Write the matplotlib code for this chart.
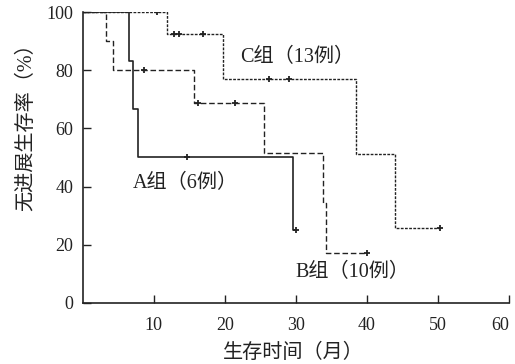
import matplotlib.pyplot as plt

plt.rcParams['font.family'] = ['Liberation Serif', 'Noto Sans CJK SC']

# Kaplan-Meier steps (months, %)
a_t = [0, 6.5, 7.1, 7.8, 29.6, 30.0]
a_s = [100, 83.3, 66.7, 50.0, 25.0, 25.0]
a_ct = [14.7, 30.0]
a_cs = [50.0, 25.0]

b_t = [0, 3.2, 4.3, 15.6, 25.5, 33.8, 34.2, 40.0]
b_s = [100, 90.0, 80.0, 68.6, 51.4, 34.3, 17.1, 17.1]
b_ct = [8.6, 16.2, 21.4, 40.0]
b_cs = [80.0, 68.6, 68.6, 17.1]

c_t = [0, 11.8, 19.7, 38.5, 43.9, 50.3]
c_s = [100, 92.3, 76.9, 51.3, 25.6, 25.6]
c_ct = [10.5, 12.9, 13.6, 16.9, 26.2, 29.0, 50.3]
c_cs = [100, 92.3, 92.3, 92.3, 76.9, 76.9, 25.6]

xticks = [10, 20, 30, 40, 50, 60]
yticks = [0, 20, 40, 60, 80, 100]

fig = plt.figure(figsize=(5.15, 3.64), dpi=100)
ax = fig.add_axes([0.161, 0.168, 0.827, 0.799])

col = '#222222'
ax.step(a_t, a_s, where='post', color=col, lw=1.2, ls='-')
ax.step(b_t, b_s, where='post', color=col, lw=1.0, ls=(0, (4, 2)))
ax.step(c_t, c_s, where='post', color=col, lw=1.0, ls=(0, (2, 1)))

for ct, cs in [(a_ct, a_cs), (b_ct, b_cs), (c_ct, c_cs)]:
    ax.plot(ct, cs, ls='none', marker='+', ms=5, mew=1.3, color=col)

ax.text(14.5, 41, 'A组（6例）', fontsize=14.5, ha='center', va='center', color=col)
ax.text(37.9, 10.3, 'B组（10例）', fontsize=14.5, ha='center', va='center', color=col)
ax.text(30.2, 84.2, 'C组（13例）', fontsize=14.5, ha='center', va='center', color=col)

ax.set_xlim(0, 60)
ax.set_ylim(0, 100)
ax.set_xticks(xticks)
ax.set_yticks(yticks)
ax.tick_params(direction='in', length=6, width=1, labelsize=13, colors=col)
ax.tick_params(axis='x', pad=10)
ax.tick_params(axis='y', pad=7)
ax.get_xticklabels()[-1].set_ha('right')
ax.spines['top'].set_visible(False)
ax.spines['right'].set_visible(False)
for s in ['left', 'bottom']:
    ax.spines[s].set_linewidth(1.2)
    ax.spines[s].set_color(col)

ax.set_xlabel('生存时间（月）', fontsize=14.5, color=col)
ax.set_ylabel('无进展生存率（%）', fontsize=14.5, color=col)
ax.xaxis.set_label_coords(0.495, -0.14)
ax.yaxis.set_label_coords(-0.11, 0.62)

fig.savefig('out.png', dpi=100)
